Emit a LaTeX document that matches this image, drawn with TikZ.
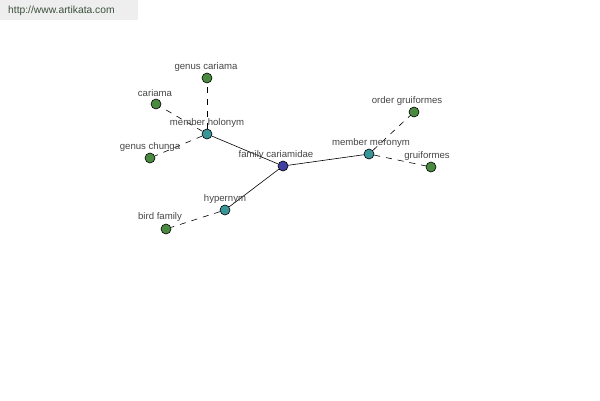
\documentclass[tikz,border=0pt]{standalone}
\usepackage{fontspec}
\setmainfont{Liberation Sans}
\begin{document}
\begin{tikzpicture}[x=1pt,y=-1pt,
  dot/.style={circle,draw=black,line width=0.6pt,minimum size=10pt,inner sep=0pt},
  leaf/.style={dot,fill=leafgreen},
  hub/.style={dot,fill=hubteal},
  core/.style={dot,fill=coreblue},
  lbl/.style={font=\fontsize{9.6}{10}\selectfont,text=labelgray,inner sep=0pt},
  rel/.style={line width=0.6pt,black},
  weak/.style={line width=0.6pt,black,dash pattern=on 6pt off 6pt}]
\definecolor{leafgreen}{RGB}{74,138,64}
\definecolor{hubteal}{RGB}{58,150,150}
\definecolor{coreblue}{RGB}{64,64,160}
\definecolor{labelgray}{RGB}{70,70,70}
\definecolor{wmgray}{RGB}{238,238,238}
\definecolor{wmtext}{RGB}{60,80,60}
\useasboundingbox (0,0) rectangle (600,400);
\fill[white] (0,0) rectangle (600,400);
\fill[wmgray] (0,0) rectangle (138,20);
\node[font=\fontsize{10.3}{11}\selectfont,text=wmtext,anchor=west,inner sep=0pt] (wm) at (8,11) {http://www.artikata.com};

\node[core] (fc) at (283,166) {};
\node[hub] (mh) at (207,134) {};
\node[hub] (mm) at (369,154) {};
\node[hub] (hy) at (225,210) {};
\node[leaf] (gc) at (207,78) {};
\node[leaf] (ca) at (156,104) {};
\node[leaf] (gch) at (150,158) {};
\node[leaf] (og) at (414,112) {};
\node[leaf] (gr) at (431,167) {};
\node[leaf] (bf) at (166,229) {};

\draw[rel] (fc) -- (mh);
\draw[rel] (fc) -- (mm);
\draw[rel] (fc) -- (hy);
\draw[weak] (mh) -- (gc);
\draw[weak] (mh) -- (ca);
\draw[weak] (mh) -- (gch);
\draw[weak] (mm) -- (og);
\draw[weak] (mm) -- (gr);
\draw[weak] (hy) -- (bf);

\node[lbl] (lfc) at (276,155) {family cariamidae};
\node[lbl] (lmh) at (207,123) {member holonym};
\node[lbl] (lmm) at (371,143) {member meronym};
\node[lbl] (lhy) at (225,199) {hypernym};
\node[lbl] (lgc) at (206,67) {genus cariama};
\node[lbl] (lca) at (155,93) {cariama};
\node[lbl] (lgch) at (150,147) {genus chunga};
\node[lbl] (log) at (407,101) {order gruiformes};
\node[lbl] (lgr) at (427,156) {gruiformes};
\node[lbl] (lbf) at (160,217) {bird family};
\end{tikzpicture}
\end{document}
